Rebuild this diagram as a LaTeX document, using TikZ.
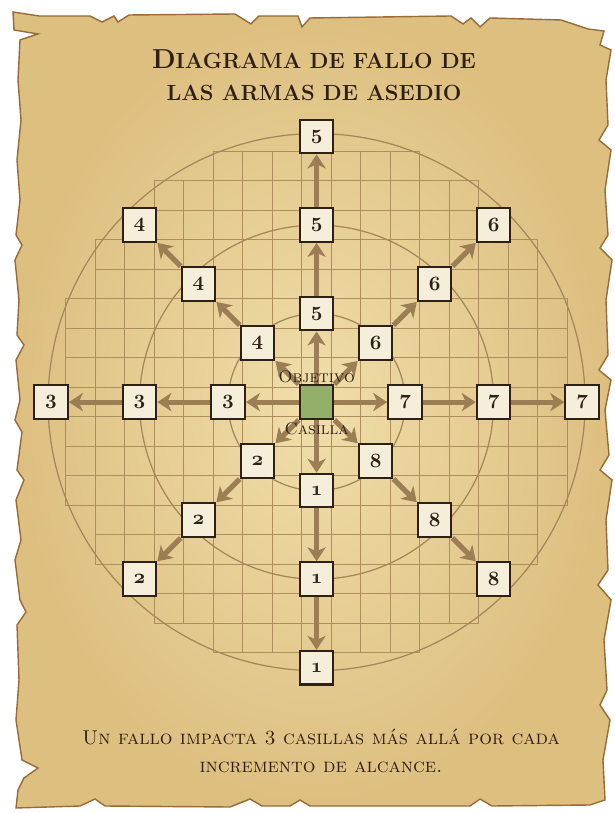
\documentclass[tikz,border=0pt]{standalone}
\usepackage{xcolor}
\usepackage{tikz}
\usetikzlibrary{arrows.meta,positioning}
\definecolor{parchLight}{HTML}{F0DEAA}
\definecolor{parchDark}{HTML}{DDBF80}
\definecolor{parchEdge}{HTML}{9A6A38}
\definecolor{gridBrown}{HTML}{AD8E5C}
\definecolor{ringBrown}{HTML}{A5875A}
\definecolor{arrowBrown}{HTML}{9C7E55}
\definecolor{inkBrown}{HTML}{2E2015}
\definecolor{boxCream}{HTML}{F4EEDB}
\definecolor{targetGreen}{HTML}{92B069}
\newcommand{\oldnum}[1]{{\usefont{OML}{cmm}{b}{it}#1}}

\begin{document}
\begin{tikzpicture}[
    x=0.7375cm, y=0.7375cm,
    numbox/.style={draw=inkBrown, fill=boxCream, line width=1.5pt, minimum size=0.84cm, inner sep=0pt, font=\fontsize{14.4}{15}\selectfont, text=inkBrown},
    target/.style={numbox, fill=targetGreen},
    ray/.style={draw=arrowBrown, line width=3.6pt, -{Stealth[length=10pt,width=13pt,inset=3pt]}},
    gridline/.style={draw=gridBrown, line width=0.7pt},
    ring/.style={draw=ringBrown, line width=0.9pt},
    lbl/.style={font=\fontsize{12}{12}\selectfont\scshape, text=inkBrown, inner sep=1pt}
  ]
  % parchment sheet, page pixels
  \begin{scope}[shift={(-7.9125cm,10.05cm)}, x=0.025cm, y=-0.025cm]
    \useasboundingbox (0,0) rectangle (615,813);
    \shade[draw=parchEdge, line width=1pt, inner color=parchLight, outer color=parchDark]
      (13,12) -- (14,30) -- (38,34) -- (20,40) -- (18,80) -- (21,120) -- (17,160) -- (20,200)
      -- (16,235) -- (22,245) -- (15,260) -- (19,300) -- (17,335) -- (24,345) -- (16,360)
      -- (20,400) -- (15,420) -- (22,432) -- (17,470) -- (24,480) -- (16,500) -- (21,540)
      -- (15,560) -- (20,600) -- (26,612) -- (17,625) -- (19,680) -- (16,720) -- (22,760)
      -- (38,768) -- (24,778) -- (18,790) -- (16,808)
      -- (80,806) -- (95,799) -- (105,806) -- (230,807) -- (250,799) -- (262,806)
      -- (290,806) -- (300,800) -- (310,806) -- (470,806) -- (480,799) -- (492,806)
      -- (590,805) -- (605,800)
      -- (603,760) -- (610,720) -- (600,705) -- (607,690) -- (604,640) -- (611,600)
      -- (598,585) -- (608,570) -- (606,520) -- (612,480) -- (600,470) -- (609,455)
      -- (605,410) -- (611,380) -- (599,370) -- (608,355) -- (606,300) -- (612,260)
      -- (600,248) -- (608,235) -- (605,190) -- (611,150) -- (599,140) -- (608,125)
      -- (606,80) -- (611,50) -- (600,45) -- (604,31)
      -- (588,29) -- (561,20) -- (490,18) -- (480,27) -- (471,18) -- (463,24) -- (451,16)
      -- (310,18) -- (302,27) -- (298,16) -- (259,16) -- (251,24) -- (235,14) -- (129,15)
      -- (118,22) -- (114,16) -- (102,22) -- (90,16) -- (39,16) -- cycle;
    \node[font=\fontsize{15.6}{23}\selectfont\bfseries, text=inkBrown, align=center] (title) at (314,75)
      {{\fontsize{19.5}{23}\selectfont D}IAGRAMA DE FALLO DE\\LAS ARMAS DE ASEDIO};
    \node[font=\fontsize{14.2}{20}\selectfont\scshape, text=inkBrown, align=center] (note) at (321,751)
      {Un fallo impacta 3 casillas más allá por cada\\incremento de alcance.};
  \end{scope}

  % grid of squares
  \foreach \i in {-9,...,9}
    \foreach \j in {-9,...,9} {
      \pgfmathtruncatemacro{\dd}{\i*\i+\j*\j}
      \ifnum\dd<75 \draw[gridline] (\i-0.5,\j-0.5) rectangle ++(1,1); \fi
    }
  \foreach \r in {3,6,9.1}
    \draw[ring] (0,0) circle (\r);

  \node[target] (obj) at (0,0) {};
  \foreach \nm/\dx/\dy/\lab in {n/0/3/5, s/0/-3/1, w/-3/0/3, e/3/0/7, nw/-2/2/4, ne/2/2/6, sw/-2/-2/2, se/2/-2/8} {
    \foreach \k in {1,2,3}
      \node[numbox] (\nm\k) at (\k*\dx,\k*\dy) {\oldnum{\lab}};
    \draw[ray] (obj) -- (\nm1);
    \draw[ray] (\nm1) -- (\nm2);
    \draw[ray] (\nm2) -- (\nm3);
  }
  \node[lbl, above=0pt of obj] (objlbl) {Objetivo};
  \node[lbl, below=1pt of obj] (caslbl) {Casilla};
\end{tikzpicture}
\end{document}
